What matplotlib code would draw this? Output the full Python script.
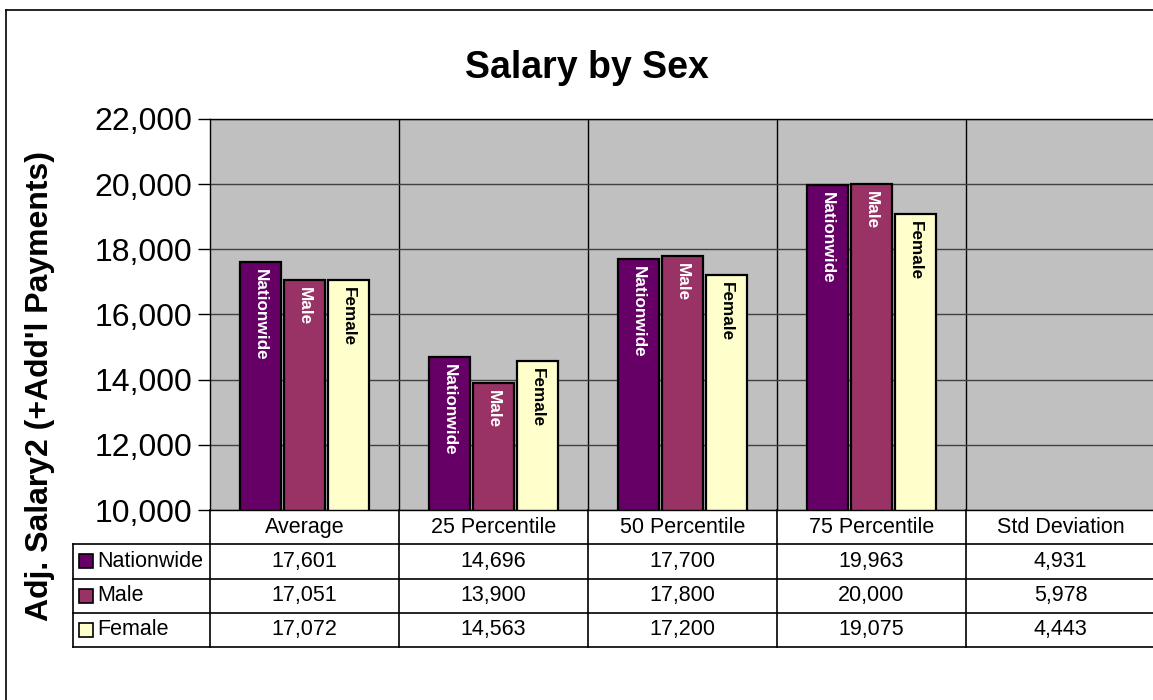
import numpy as np
import matplotlib
matplotlib.use("Agg")
import matplotlib.pyplot as plt
from matplotlib.lines import Line2D

plt.rcParams['font.family'] = ['Liberation Sans', 'DejaVu Sans']

# chart data
categories = ["Average", "25 Percentile", "50 Percentile", "75 Percentile", "Std Deviation"]
series = ["Nationwide", "Male", "Female"]
nationwide = [17601, 14696, 17700, 19963, 4931]
male = [17051, 13900, 17800, 20000, 5978]
female = [17072, 14563, 17200, 19075, 4443]
y_ticks = [10000, 12000, 14000, 16000, 18000, 20000, 22000]

colors = ["#660066", "#993366", "#FFFFCC"]
label_colors = ["white", "white", "black"]
values = [nationwide, male, female]

W, H = 1153, 700
fig = plt.figure(figsize=(W / 100, H / 100), dpi=100)

# outer chart border (cut off at right and bottom like the original)
fig.add_artist(Line2D([6 / W, 6 / W], [1 - 10 / H, 0], color="black", lw=1.2))
fig.add_artist(Line2D([6 / W, 1], [1 - 10 / H, 1 - 10 / H], color="black", lw=1.2))

# plot area in pixels: x 210..1155, y 119..510
ax = fig.add_axes([210 / W, 1 - 510 / H, 945 / W, 391 / H])
ax.set_facecolor("#C0C0C0")
ax.set_xlim(-0.5, 4.5)
ax.set_ylim(y_ticks[0], y_ticks[-1])
ax.set_yticks(y_ticks)
ax.set_yticklabels([f"{v:,}" for v in y_ticks], fontsize=23)
ax.tick_params(axis="y", length=9, width=1, direction="out", pad=4)
ax.set_xticks([])
ax.set_axisbelow(True)
ax.grid(axis="y", color="#404040", lw=1)
for b in np.arange(0.5, len(categories), 1.0):
    ax.axvline(b, color="black", lw=1, zorder=0.5)
for s in ax.spines.values():
    s.set_color("black")
    s.set_linewidth(1)

# bars
x = np.arange(len(categories))
step = 0.233
width = 0.217
for j, name in enumerate(series):
    xs = x + (j - 1) * step
    ax.bar(xs, values[j], width=width, color=colors[j], edgecolor="black", lw=1.6, zorder=2)
    for xi, v in zip(xs, values[j]):
        ax.annotate(name, xy=(xi, v), xytext=(0, -5), textcoords="offset points",
                    ha="center", va="top", rotation=-90, fontsize=12.3,
                    fontweight="bold", color=label_colors[j], zorder=3,
                    annotation_clip=True)

# title and y label
fig.text(587 / W, 1 - 68 / H, "Salary by Sex", ha="center", va="center",
         fontsize=27, fontweight="bold")
fig.text(40 / W, 1 - 386 / H, "Adj. Salary2 (+Add'l Payments)", ha="center",
         va="center", rotation=90, fontsize=23, fontweight="bold")

# data table under the plot: x 73..1155, y 510..647
cat_w = 189.0
left_px = 73
tax = fig.add_axes([left_px / W, 1 - 647 / H, (1155 - left_px) / W, 137 / H])
tax.set_xlim(-0.5 - (210 - left_px) / cat_w, 4.5)
tax.set_ylim(4, 0)
tax.axis("off")

def tx(px):
    return -0.5 + (px - 210) / cat_w

xl = tx(left_px)
lc = "black"
for r in range(1, 5):
    tax.plot([xl, 4.5], [r, r], color=lc, lw=1.2, clip_on=False)
tax.plot([xl, xl], [1, 4], color=lc, lw=1.2, clip_on=False)
for b in np.arange(-0.5, len(categories), 1.0):
    tax.plot([b, b], [0, 4], color=lc, lw=1.2, clip_on=False)

for i, c in enumerate(categories):
    tax.text(i, 0.5, c, ha="center", va="center", fontsize=15.5)
for j, name in enumerate(series):
    tax.plot(tx(85.5), j + 1.5, marker="s", ms=10.5, mfc=colors[j], mec="black", mew=1.2)
    tax.text(tx(97), j + 1.5, name, ha="left", va="center", fontsize=15.5)
    for i, v in enumerate(values[j]):
        tax.text(i, j + 1.5, f"{v:,}", ha="center", va="center", fontsize=15.5)

fig.savefig("out.png", dpi=100)
